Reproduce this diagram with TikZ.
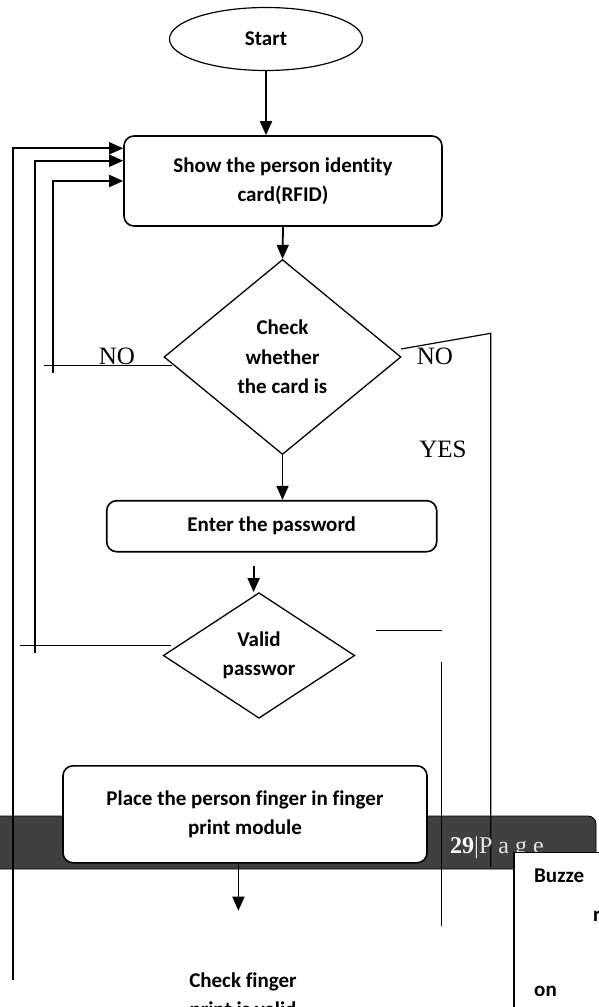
\documentclass[tikz,border=0pt]{standalone}
\usepackage{fontspec}
\setmainfont{Carlito}[Ligatures=NoCommon]
\newfontfamily\answerfont{Liberation Serif}
\usetikzlibrary{shapes.geometric,arrows.meta}

\definecolor{footgray}{RGB}{64,64,64}
\newcommand{\boxfont}{\fontsize{21}{29.5}\selectfont\bfseries}

\tikzset{
  proc/.style={draw,line width=1.6pt,rounded corners=10pt,fill=white,align=center,font=\boxfont},
  decide/.style={draw,diamond,line width=1.3pt,inner sep=0pt,align=center,font=\boxfont},
  flow/.style={line width=1.8pt,-{Triangle[length=14pt,width=12pt]}},
  branch/.style={line width=1.2pt},
  answer/.style={font=\answerfont\fontsize{25}{25}\selectfont}
}

\begin{document}
\begin{tikzpicture}[x=1pt,y=-1pt]
  \useasboundingbox (0,0) rectangle (598,1007);

  \draw[fill=footgray,rounded corners=8pt,line width=0.8pt] (-10,816) rectangle (596,869);

  \node[draw,ellipse,line width=1.2pt,minimum width=193pt,minimum height=63pt,font=\boxfont] (start) at (266,39) {Start};
  \node[proc,minimum width=318pt,minimum height=90pt] (card) at (283,181) {Show the person identity\\card(RFID)};
  \node[decide,minimum width=237pt,minimum height=195pt] (check) at (282.5,357) {Check\\whether\\the card is};
  \node[proc,minimum width=330pt,minimum height=51pt] (pass) at (271.7,526.2) {Enter the password};
  \node[decide,minimum width=191.5pt,minimum height=125.6pt] (valid) at (259,655.5) {Valid\\passwor};
  \node[proc,minimum width=364pt,minimum height=97pt] (finger) at (245,814.3) {Place the person finger in finger\\print module};
  \node[font=\boxfont,align=center] (fpcheck) at (243,996.5) {Check finger\\print is valid};

  \node[answer] (noleft) at (117,356.7) {NO};
  \node[answer] (noright) at (434.8,356.7) {NO};
  \node[answer] (yes) at (443,449) {YES};

  \draw[flow] (start.south) -- (start.south |- card.north);
  \draw[flow] (card.south) -- (check.north);
  \draw[flow] (check.south) -- (check.south |- pass.north);
  \coordinate (passout) at (253.6,566);
  \draw[flow] (passout) -- (passout |- valid.north);
  \coordinate (fptop) at (238.4,910.7);
  \draw[flow] (finger.south -| fptop) -- (fptop);

  % NO loops back to the card reader
  \coordinate (loopa) at (13,980);
  \draw[flow] (loopa) -- (13,148.3) -- (card.west |- 0,148.3);
  \coordinate (loopb) at (19.8,645.7);
  \draw[branch] (loopb) -- (171,645.7);
  \draw[flow] (35,653) -- (35,160.7) -- (card.west |- 0,160.7);
  \coordinate (loopc) at (44,365.7);
  \draw[branch] (loopc) -- (172,365.7);
  \draw[flow] (53,373) -- (53,181) -- (card.west |- 0,181);

  \coordinate (checkout) at (401,349);
  \draw[branch] (checkout) -- (490.8,333.3) -- (490.8,867);
  \coordinate (validout) at (375.7,630.7);
  \draw[branch] (validout) -- (442.4,630.7);
  \draw[branch] (441.7,661.7) -- (441.7,926);

  \node[anchor=base west,inner sep=0pt,font=\answerfont\fontsize{24}{24}\selectfont] (pagenum) at (450,853)
    {\textbf{\color{white}29}\color{gray!20}|P a g e};
  \node[draw,line width=1.5pt,fill=white,anchor=north west,minimum width=100pt,minimum height=170pt] (buzz) at (513.3,851.7) {};
  \node[anchor=west,inner sep=0pt,font=\boxfont] (buzza) at (534,876) {Buzze};
  \node[anchor=west,inner sep=0pt,font=\boxfont] (buzzb) at (593,916) {r};
  \node[anchor=west,inner sep=0pt,font=\boxfont] (buzzc) at (534,991.7) {on};
\end{tikzpicture}
\end{document}
